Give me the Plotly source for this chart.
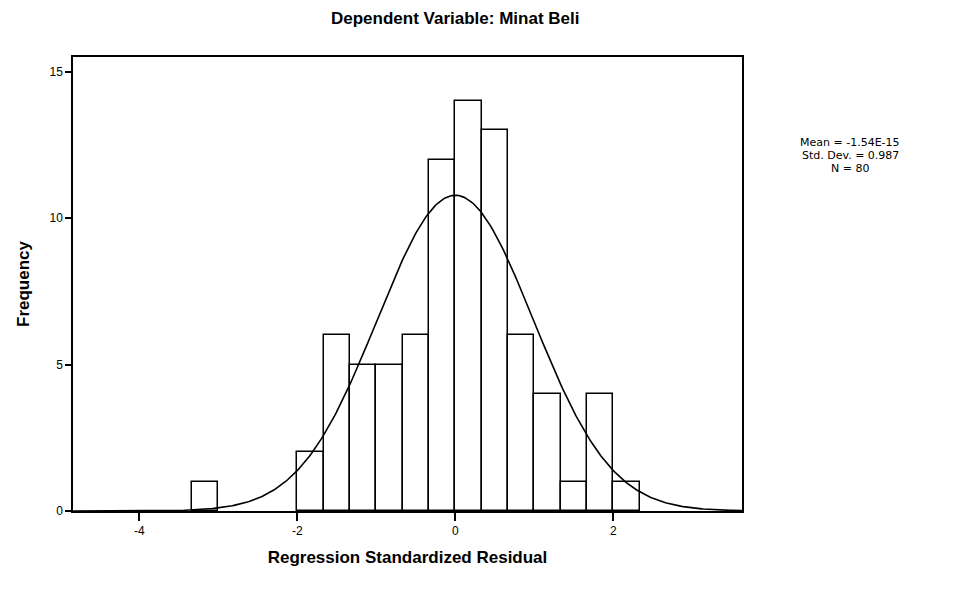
import numpy as np
import plotly.graph_objects as go

# Histogram data (bin width 1/3)
bin_width = 1.0 / 3.0
bin_lefts = [-10/3, -2.0, -5/3, -4/3, -1.0, -2/3, -1/3, 0.0, 1/3, 2/3, 1.0, 4/3, 5/3, 2.0]
counts = [1, 2, 6, 5, 5, 6, 12, 14, 13, 6, 4, 1, 4, 1]

# Summary statistics shown in the chart
mean_text = "-1.54E-15"
mean_val = -1.54e-15
sd_val = 0.987
n_val = 80

x_tickvals = [-4, -2, 0, 2]
x_ticktext = ["-4", "-2", "0", "2"]
y_tickvals = [0, 5, 10, 15]

centers = [l + bin_width / 2 for l in bin_lefts]

# Fitted normal curve from the displayed mean / sd / N
xs = np.linspace(-4.84, 3.63, 400)
ys = n_val * bin_width / (sd_val * np.sqrt(2 * np.pi)) * np.exp(-0.5 * ((xs - mean_val) / sd_val) ** 2)

fig = go.Figure()
fig.add_trace(go.Bar(
    x=centers, y=counts, width=[bin_width] * len(counts),
    marker=dict(color="white", line=dict(color="black", width=1.5)),
    showlegend=False, hoverinfo="x+y"
))
fig.add_trace(go.Scatter(
    x=xs, y=ys, mode="lines", line=dict(color="black", width=1.6),
    showlegend=False, hoverinfo="skip"
))

L, R, T, B = 65, 233, 49, 89
fig.update_layout(
    width=967, height=592,
    paper_bgcolor="white", plot_bgcolor="white",
    margin=dict(l=L, r=R, t=T, b=B),
    font=dict(family="Liberation Sans, Arial, sans-serif", color="black"),
    bargap=0,
)
fig.update_xaxes(
    range=[-4.84, 3.63], tickvals=x_tickvals, ticktext=x_ticktext,
    ticks="outside", ticklen=8, tickwidth=1.5, tickcolor="black",
    showline=True, linecolor="black", linewidth=1.5, mirror=True,
    showgrid=False, zeroline=False, tickfont=dict(size=12),
    title=dict(text="<b>Regression Standardized Residual</b>", font=dict(size=17), standoff=14),
)
fig.update_yaxes(
    range=[0, 15.5], tickvals=y_tickvals,
    ticks="outside", ticklen=6, tickwidth=1.5, tickcolor="black",
    showline=True, linecolor="black", linewidth=1.5, mirror=True,
    showgrid=False, zeroline=False, tickfont=dict(size=12),
    title=dict(text="<b>Frequency</b>", font=dict(size=17), standoff=16),
)

pw = 967 - L - R
ph = 592 - T - B


def px_x(px):
    return (px - 8 - L) / pw


def px_y(py):
    return (592 - B + 8 - py) / ph


fig.add_annotation(
    text="<b>Dependent Variable: Minat Beli</b>", xref="paper", yref="paper",
    x=px_x(455), y=px_y(18), showarrow=False,
    font=dict(size=17), xanchor="center", yanchor="middle",
)
stat_lines = [f"Mean = {mean_text}", f"Std. Dev. = {sd_val}", f"N = {n_val}"]
stat_ys = [142, 155, 168]
for txt, yy in zip(stat_lines, stat_ys):
    fig.add_annotation(
        text=txt, xref="paper", yref="paper", x=px_x(850), y=px_y(yy),
        showarrow=False, font=dict(size=11, family="DejaVu Sans"),
        xanchor="center", yanchor="middle", height=12, borderpad=0,
    )

fig.write_html("out.html")
